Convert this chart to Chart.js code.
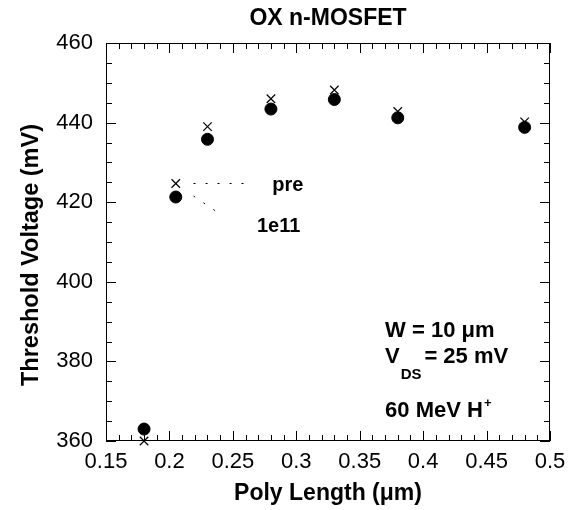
<!DOCTYPE html>
<html>
<head>
<meta charset="utf-8">
<script src="https://cdn.jsdelivr.net/npm/chart.js@4.4.0/dist/chart.umd.min.js"></script>
<style>
  html, body { margin: 0; padding: 0; background: #fff; }
</style>
</head>
<body>
<canvas id="vtChart" width="575" height="510"></canvas>
<script>
// poly length (um) and threshold voltage (mV)
const polyLength = [0.18, 0.205, 0.23, 0.28, 0.33, 0.38, 0.48];
const vtPre = [360.0, 424.7, 439.0, 446.0, 448.2, 442.8, 440.2];
const vt1e11 = [363.0, 421.3, 435.8, 443.4, 445.8, 441.2, 438.8];

const xTicks = [0.15, 0.2, 0.25, 0.3, 0.35, 0.4, 0.45, 0.5];
const xTickLabels = ['0.15', '0.2', '0.25', '0.3', '0.35', '0.4', '0.45', '0.5'];
const yTicks = [360, 380, 400, 420, 440, 460];
const yTickLabels = ['360', '380', '400', '420', '440', '460'];

const FONT = '"Liberation Sans", Arial, Helvetica, sans-serif';
Chart.defaults.font.family = FONT;
Chart.defaults.color = '#000';

function toPoints(ys) {
    return polyLength.map((x, i) => ({ x: x, y: ys[i] }));
}

// inward ticks on all four sides + frame
const frameTicks = {
    id: 'frameTicks',
    afterDraw(chart) {
        const { ctx, chartArea: a } = chart;
        const xs = chart.scales.x, ys = chart.scales.y;
        ctx.save();
        ctx.strokeStyle = '#000';
        ctx.lineWidth = 1;
        ctx.strokeRect(a.left + 0.5, a.top + 0.5, a.right - a.left - 1, a.bottom - a.top - 1);
        ctx.beginPath();
        for (let i = 0; i <= 35; i++) {
            const v = 0.15 + i * 0.01;
            const px = Math.round(xs.getPixelForValue(v)) + 0.5;
            const len = i % 5 === 0 ? 10 : 6;
            ctx.moveTo(px, a.bottom); ctx.lineTo(px, a.bottom - len);
            ctx.moveTo(px, a.top); ctx.lineTo(px, a.top + len);
        }
        for (let i = 0; i <= 20; i++) {
            const v = 360 + i * 5;
            const py = Math.round(ys.getPixelForValue(v)) + 0.5;
            const len = i % 4 === 0 ? 10 : 6;
            ctx.moveTo(a.left, py); ctx.lineTo(a.left + len, py);
            ctx.moveTo(a.right, py); ctx.lineTo(a.right - len, py);
        }
        ctx.stroke();
        ctx.restore();
    }
};

// title, y title, labels with dotted leaders, device info box
const notes = {
    id: 'notes',
    afterDatasetsDraw(chart) {
        const { ctx, chartArea: a } = chart;
        const xs = chart.scales.x, ys = chart.scales.y;
        const X = v => xs.getPixelForValue(v), Y = v => ys.getPixelForValue(v);
        ctx.save();
        ctx.fillStyle = '#000';

        ctx.font = 'bold 23px ' + FONT;
        ctx.textAlign = 'center';
        ctx.textBaseline = 'middle';
        ctx.fillText('OX n-MOSFET', (a.left + a.right) / 2, 19);

        ctx.save();
        ctx.translate(32, 255);
        ctx.rotate(-Math.PI / 2);
        ctx.font = 'bold 23.5px ' + FONT;
        ctx.fillText('Threshold Voltage (mV)', 0, 0);
        ctx.restore();

        ctx.strokeStyle = '#000';
        ctx.lineWidth = 1;
        ctx.setLineDash([2, 10]);
        ctx.beginPath();
        ctx.moveTo(X(0.219), Y(vtPre[1])); ctx.lineTo(X(0.262), Y(vtPre[1]));
        ctx.moveTo(X(0.219), Y(vt1e11[1]) - 1); ctx.lineTo(X(0.241), Y(416.8));
        ctx.stroke();
        ctx.setLineDash([]);

        ctx.textBaseline = 'alphabetic';
        ctx.textAlign = 'left';
        ctx.font = 'bold 20px ' + FONT;
        ctx.fillText('pre', X(0.2810), Y(422.8));
        ctx.fillText('1e11', X(0.2690), Y(412.6));

        const x0 = X(0.370);
        ctx.font = 'bold 22px ' + FONT;
        ctx.fillText('W = 10 \u03bcm', x0, Y(386.2));
        ctx.fillText('V', x0, Y(379.5));
        const vw = ctx.measureText('V').width;
        ctx.fillText('= 25 mV', X(0.401), Y(379.5));
        ctx.fillText('60 MeV H', x0, Y(366.1));
        const hw = ctx.measureText('60 MeV H').width;
        ctx.font = 'bold 15px ' + FONT;
        ctx.fillText('DS', x0 + vw + 1, Y(379.5) + 16);
        ctx.font = 'bold 13px ' + FONT;
        ctx.fillText('+', x0 + hw + 1, Y(366.1) - 10);
        ctx.restore();
    }
};

new Chart(document.getElementById('vtChart'), {
    type: 'scatter',
    data: {
        datasets: [
            {
                label: 'pre',
                data: toPoints(vtPre),
                pointStyle: 'crossRot',
                pointRadius: 6,
                borderColor: '#000',
                borderWidth: 1.2,
                clip: false
            },
            {
                label: '1e11',
                data: toPoints(vt1e11),
                pointStyle: 'circle',
                pointRadius: 6,
                backgroundColor: '#000',
                borderColor: '#000',
                borderWidth: 1,
                clip: false
            }
        ]
    },
    options: {
        responsive: false,
        animation: false,
        layout: { padding: { left: 0, right: 25, top: 43, bottom: 0 } },
        plugins: {
            legend: { display: false },
            tooltip: { enabled: false },
            title: { display: false }
        },
        scales: {
            x: {
                type: 'linear',
                min: 0.15,
                max: 0.5,
                afterFit(scale) { scale.height = 69; },
                afterBuildTicks(scale) { scale.ticks = xTicks.map(v => ({ value: v })); },
                grid: { display: false, drawTicks: false },
                border: { display: false },
                ticks: {
                    autoSkip: false,
                    maxRotation: 0,
                    padding: 8,
                    font: { size: 22 },
                    color: '#000',
                    callback: (v, i) => xTickLabels[i]
                },
                title: {
                    display: true,
                    text: 'Poly Length (\u03bcm)',
                    font: { size: 23, weight: 'bold' },
                    color: '#000',
                    padding: { top: 0, bottom: 3 }
                }
            },
            y: {
                type: 'linear',
                min: 360,
                max: 460,
                afterFit(scale) { scale.width = 106; },
                afterBuildTicks(scale) { scale.ticks = yTicks.map(v => ({ value: v })); },
                grid: { display: false, drawTicks: false },
                border: { display: false },
                ticks: {
                    autoSkip: false,
                    padding: 13,
                    font: { size: 22 },
                    color: '#000',
                    callback: (v, i) => yTickLabels[i]
                }
            }
        }
    },
    plugins: [frameTicks, notes]
});
</script>
</body>
</html>
